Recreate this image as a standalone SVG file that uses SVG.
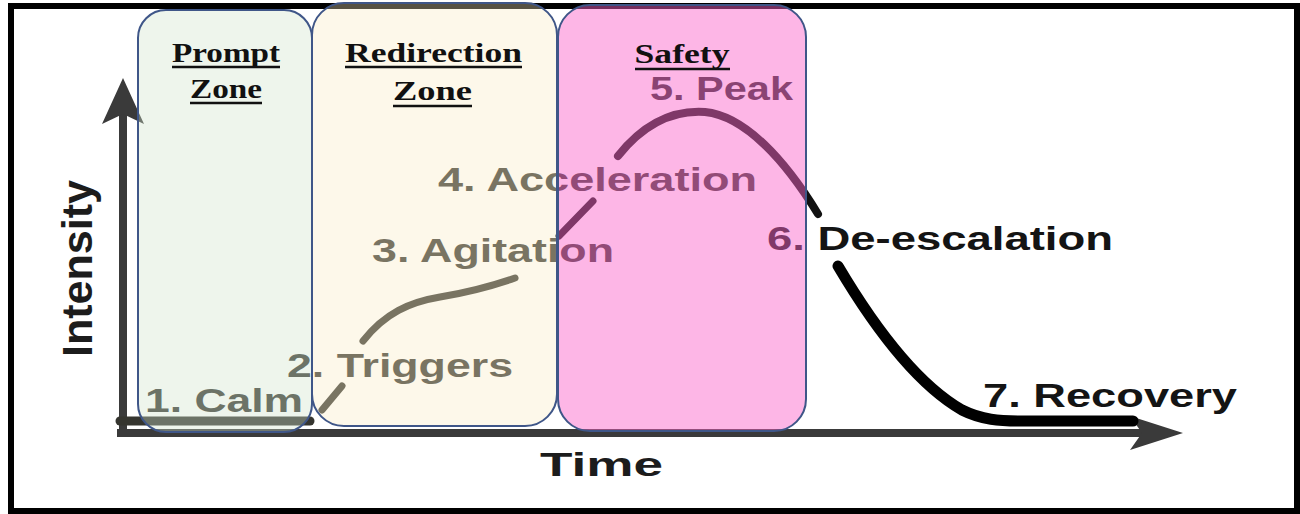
<svg xmlns="http://www.w3.org/2000/svg" width="1300" height="514" viewBox="0 0 1300 514">
  <style>
    .lbl { font-family: "Liberation Sans", Arial, sans-serif; font-weight: bold; font-size: 34px; }
    .dim { fill: #35352f; }
    .blk { fill: #141414; }
    .ttl { font-family: "Liberation Serif", "Times New Roman", serif; font-weight: bold; font-size: 28px; fill: #111; }
    .ul { stroke: #111; stroke-width: 2.6; }
    .zone { stroke: #3f5688; stroke-width: 2; }
    .seg { fill: none; stroke-linecap: round; stroke-linejoin: round; }
  </style>
  <rect width="1300" height="514" fill="#ffffff"/>
  <g id="frame">
    <rect x="11" y="6" width="1286" height="505" fill="none" stroke="#000" stroke-width="6"/>
  </g>
  <g id="axes" fill="#3a3a3a" stroke="#3a3a3a">
    <line x1="123" y1="433" x2="123" y2="105" stroke-width="8"/>
    <polygon points="123,78 144,124 123,114 102,124" stroke="none"/>
    <line x1="117" y1="433" x2="1150" y2="433" stroke-width="8"/>
    <polygon points="1183,433 1130,416 1142,433 1130,450" stroke="none"/>
    <text class="lbl" x="601.5" y="476" font-size="40" text-anchor="middle" textLength="123" lengthAdjust="spacingAndGlyphs" fill="#1c1c1c" stroke="none">Time</text>
    <text class="lbl" transform="translate(92,268.5) rotate(-90) scale(1,1.25)" font-size="43" text-anchor="middle" textLength="177" lengthAdjust="spacingAndGlyphs" fill="#1c1c1c" stroke="none">Intensity</text>
  </g>
  <g id="connectors">
    <line class="seg" x1="120" y1="421" x2="310" y2="421" stroke="#35352f" stroke-width="9" stroke-linecap="butt"/>
    <line class="seg" x1="322" y1="410" x2="342" y2="386" stroke="#35352f" stroke-width="7"/>
    <path class="seg" d="M363,341 C385,313 410,302 440,297 C470,292 495,285 515,278" stroke="#35352f" stroke-width="7"/>
    <line class="seg" x1="559" y1="236" x2="593" y2="201" stroke="#111" stroke-width="7"/>
    <path class="seg" d="M618,156 C645,122 675,110 705,112 C745,116 785,160 818,214" stroke="#111" stroke-width="8"/>
    <path class="seg" d="M838,266 C870,320 915,383 962,410 C982,420 1000,421 1020,421 L1133,421" stroke="#000" stroke-width="11"/>
  </g>
  <g id="labels">
    <text class="lbl dim" x="145" y="412" textLength="158" lengthAdjust="spacingAndGlyphs">1. Calm</text>
    <text class="lbl dim" x="287" y="377" textLength="226" lengthAdjust="spacingAndGlyphs">2. Triggers</text>
    <text class="lbl dim" x="372" y="262" textLength="242" lengthAdjust="spacingAndGlyphs">3. Agitation</text>
    <text class="lbl dim" x="438" y="191" textLength="319" lengthAdjust="spacingAndGlyphs">4. Acceleration</text>
    <text class="lbl" x="650" y="100" textLength="143" lengthAdjust="spacingAndGlyphs" fill="#262626">5. Peak</text>
    <text class="lbl blk" x="767" y="250" textLength="346" lengthAdjust="spacingAndGlyphs">6. De-escalation</text>
    <text class="lbl blk" x="983" y="407" textLength="254" lengthAdjust="spacingAndGlyphs">7. Recovery</text>
  </g>
  <g id="zone-prompt">
    <rect class="zone" x="138" y="10" width="174" height="422" rx="28" ry="28" fill="rgb(208,227,202)" fill-opacity="0.36"/>
    <text class="ttl" x="226" y="62" text-anchor="middle" textLength="108" lengthAdjust="spacingAndGlyphs">Prompt</text>
    <line class="ul" x1="172" y1="67" x2="280" y2="67"/>
    <text class="ttl" x="226" y="98" text-anchor="middle" textLength="72" lengthAdjust="spacingAndGlyphs">Zone</text>
    <line class="ul" x1="190" y1="103" x2="262" y2="103"/>
  </g>
  <g id="zone-redirection">
    <rect class="zone" x="312" y="3" width="245" height="423" rx="32" ry="32" fill="rgb(250,235,195)" fill-opacity="0.35"/>
    <text class="ttl" x="433.5" y="62" text-anchor="middle" textLength="177" lengthAdjust="spacingAndGlyphs">Redirection</text>
    <line class="ul" x1="345" y1="67" x2="522" y2="67"/>
    <text class="ttl" x="432.5" y="100" text-anchor="middle" textLength="79" lengthAdjust="spacingAndGlyphs">Zone</text>
    <line class="ul" x1="393" y1="106" x2="472" y2="106"/>
  </g>
  <g id="zone-safety">
    <rect class="zone" x="558" y="5" width="248" height="426" rx="32" ry="32" fill="rgb(251,100,202)" fill-opacity="0.47"/>
    <text class="ttl" x="682" y="63" text-anchor="middle" textLength="95" lengthAdjust="spacingAndGlyphs">Safety</text>
    <line class="ul" x1="635" y1="69" x2="730" y2="69"/>
  </g>
</svg>
